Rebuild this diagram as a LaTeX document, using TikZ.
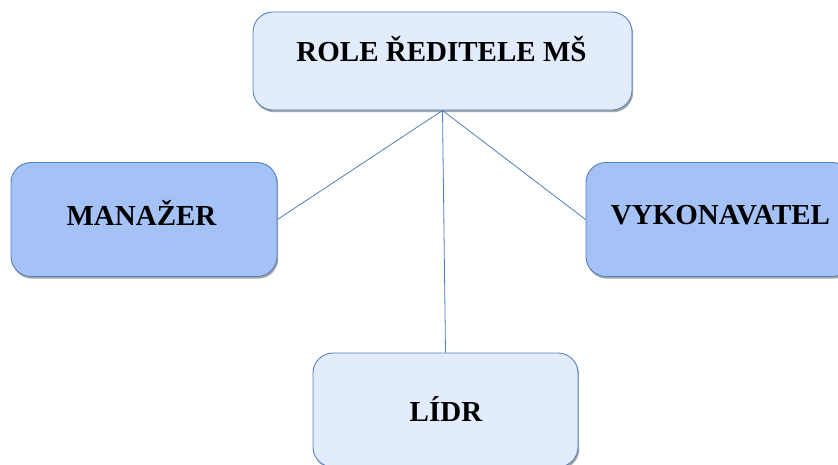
\documentclass[tikz,border=0pt]{standalone}
\usepackage{fontspec}
\setmainfont{Liberation Serif}
\usetikzlibrary{shadows}
\definecolor{edgeblue}{RGB}{84,130,192}
\definecolor{lightfill}{RGB}{227,236,252}
\definecolor{midfill}{RGB}{164,194,246}
\definecolor{linkblue}{RGB}{74,126,190}
\tikzset{
  box/.style={draw=edgeblue, line width=0.9pt, rounded corners=20pt,
    minimum width=266pt, minimum height=114pt, inner sep=0pt,
    drop shadow={shadow xshift=1.2pt, shadow yshift=-2.2pt, fill=black, opacity=0.35}},
  lightbox/.style={box, fill=lightfill},
  midbox/.style={box, fill=midfill},
  lbl/.style={font=\fontsize{29}{31}\selectfont\bfseries, text=black,
    inner sep=0pt, text height=19pt, text depth=0pt},
  link/.style={draw=linkblue, line width=0.8pt}
}
\begin{document}
\begin{tikzpicture}[x=1pt,y=-1pt]
\useasboundingbox (0,0) rectangle (838,464);
\clip (0,0) rectangle (838,464);
\fill[white] (0,0) rectangle (838,464);
\path
  (442.5,61) coordinate (topc)
  (144,219.5) coordinate (manc)
  (719,219.5) coordinate (vykc)
  (445.5,410) coordinate (lidc);
\node[lightbox, minimum width=379pt, minimum height=98pt] (top) at (topc) {};
\node[midbox] (man) at (manc) {};
\node[midbox] (vyk) at (vykc) {};
\node[lightbox, minimum width=265pt] (lid) at (lidc) {};
% connectors
\draw[link] (top.south) -- (man.east);
\draw[link] (top.south) -- (vyk.west);
\draw[link] (top.south) -- (lid.north);
% labels
\node[lbl] (topt) at (441.5,52) {ROLE ŘEDITELE MŠ};
\node[lbl] (mant) at (141.5,215.5) {MANAŽER};
\node[lbl] (vykt) at (720.5,215) {VYKONAVATEL};
\node[lbl] (lidt) at (446,411.5) {LÍDR};
\end{tikzpicture}
\end{document}
